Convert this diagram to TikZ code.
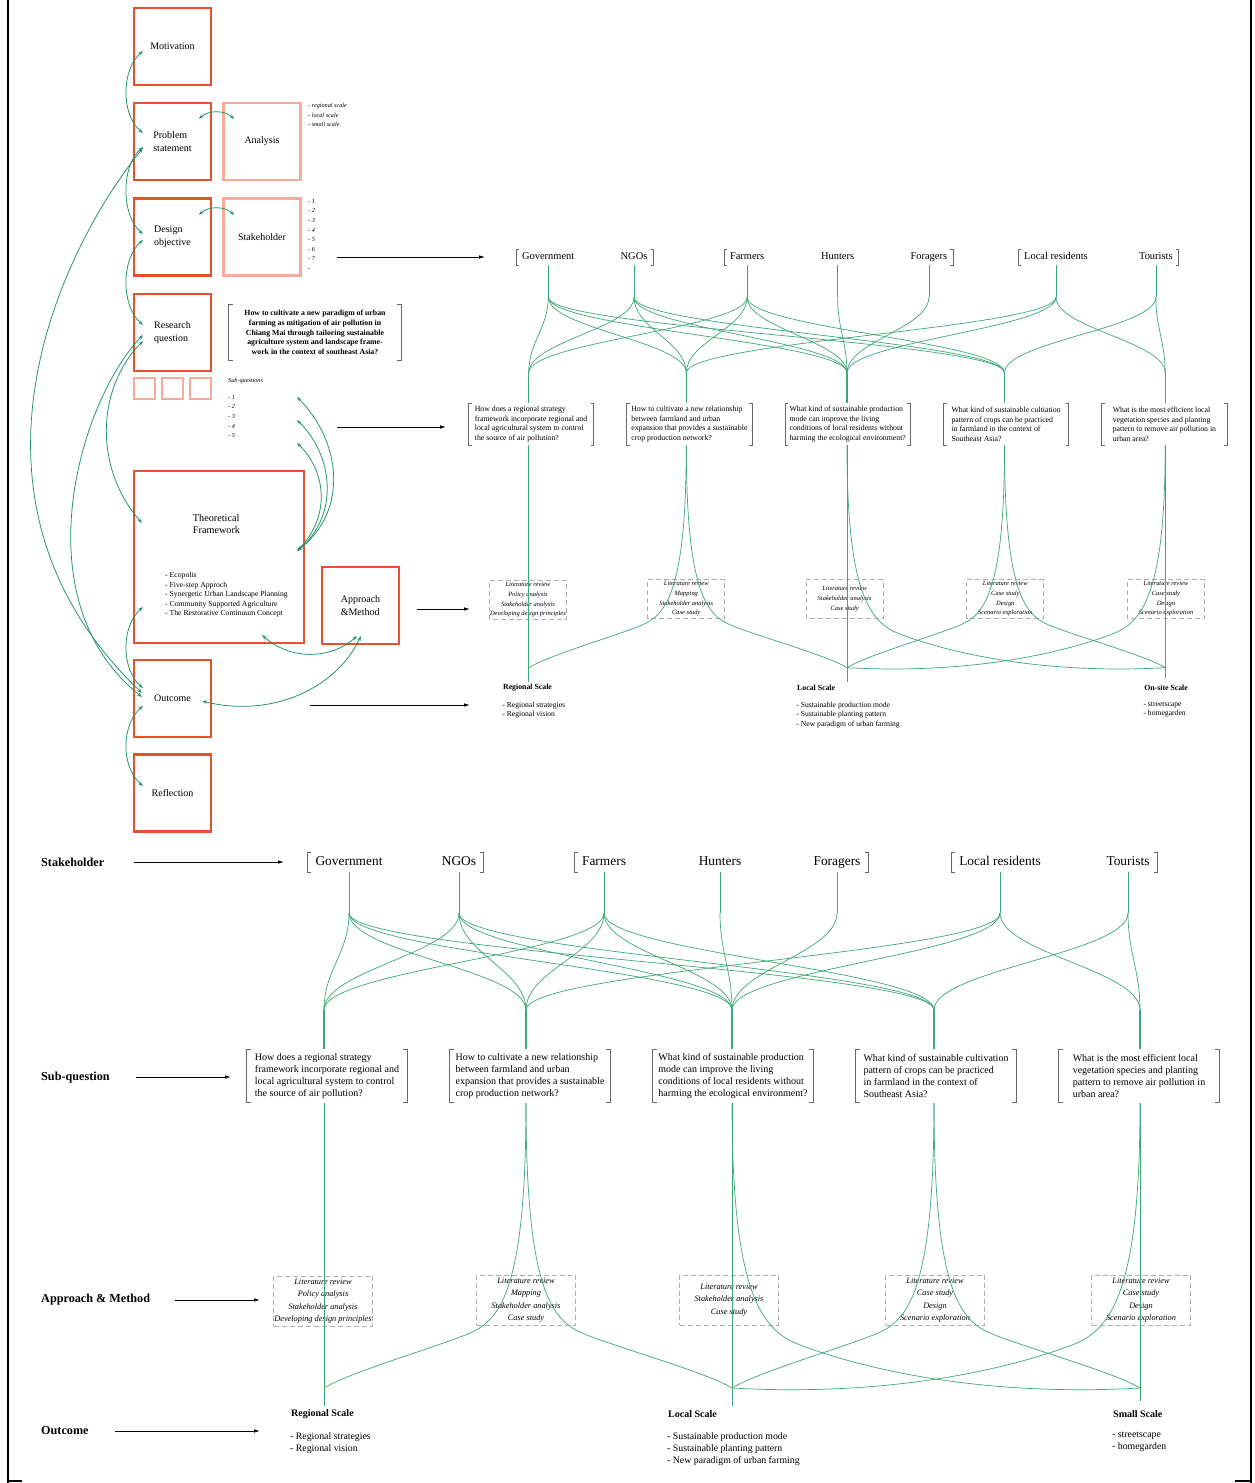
\documentclass[tikz,border=0pt]{standalone}
\usepackage{fontspec}
\setmainfont{Liberation Serif}
\usetikzlibrary{arrows.meta,calc}
\definecolor{orng}{RGB}{230,82,44}
\definecolor{lorng}{RGB}{246,172,152}
\definecolor{netgreen}{RGB}{60,168,120}
\definecolor{arrgreen}{RGB}{28,146,100}
\definecolor{dashgrey}{RGB}{175,175,175}
\definecolor{brgrey}{RGB}{105,105,105}
\newcommand\fsz[2]{\fontsize{#1}{#2}\selectfont}
\tikzset{
  obox/.style={draw=orng, line width=2.4pt, minimum width=77pt, minimum height=77pt, inner sep=0pt, font=\fsz{10}{12.6}, align=left},
  lbox/.style={obox, draw=lorng},
  sbox/.style={draw=lorng, line width=2pt, minimum width=21pt, minimum height=21pt, inner sep=0pt},
  gline/.style={draw=netgreen, line width=0.7pt},
  garr/.style={draw=arrgreen, line width=0.75pt, {Stealth[length=5pt,width=3.4pt]}-{Stealth[length=5pt,width=3.4pt]}},
  barr/.style={draw=black, line width=0.8pt, -{Latex[length=6pt,width=3.5pt]}},
  stk/.style={font=\fsz{13.4}{15}, inner sep=1pt, text height=9.2pt, text depth=2.8pt},
  qbox/.style={minimum width=160pt, minimum height=53pt, align=left, inner sep=0pt, font=\fsz{10}{12.2}},
  bracket/.style={draw=brgrey, line width=0.8pt},
  mbox/.style={draw=dashgrey, dash pattern=on 5pt off 3pt, line width=0.9pt, minimum width=99pt, minimum height=50pt, align=center, font=\fsz{8.3}{12.4}\itshape, inner sep=0pt},
  olab/.style={font=\fsz{10}{12}\bfseries, inner sep=0pt, anchor=west},
  oitems/.style={font=\fsz{9.8}{12.1}, inner sep=0pt, anchor=north west, align=left},
  note/.style={font=\fsz{6.2}{9.6}\itshape, inner sep=0pt, align=left},
  sidelab/.style={font=\fsz{12.2}{14}\bfseries, inner sep=0pt, anchor=west}
}
\newcommand\qbrackets[1]{%
  \draw[bracket] ([xshift=4pt]#1.north west) -- (#1.north west) -- (#1.south west) -- ([xshift=4pt]#1.south west);
  \draw[bracket] ([xshift=-4pt]#1.north east) -- (#1.north east) -- (#1.south east) -- ([xshift=-4pt]#1.south east);
}
\newcommand\lbr[1]{\draw[bracket] ([xshift=-3pt,yshift=10pt]#1.west) -- ++(-3.5,0) -- ++(0,20) -- ++(3.5,0);}
\newcommand\rbr[1]{\draw[bracket] ([xshift=3pt,yshift=10pt]#1.east) -- ++(3.5,0) -- ++(0,20) -- ++(-3.5,0);}
\newcommand\flowblock[3]{%
  % stakeholders
  \node[stk] (#1gov) at (349,862) {Government};
  \node[stk] (#1ngo) at (459,862) {NGOs};
  \node[stk] (#1farm) at (604,862) {Farmers};
  \node[stk] (#1hunt) at (720,862) {Hunters};
  \node[stk] (#1forag) at (837,862) {Foragers};
  \node[stk] (#1local) at (1000,862) {Local residents};
  \node[stk] (#1tour) at (1128,862) {Tourists};
  \lbr{#1gov}\rbr{#1ngo}\lbr{#1farm}\rbr{#1forag}\lbr{#1local}\rbr{#1tour}
  \foreach \n/\x in {gov/349,ngo/459,farm/604,hunt/720,forag/837,local/1000,tour/1128}{
    \coordinate (#1b\n) at (\x,913);
    \draw[gline] ([yshift=-3pt]#1\n.south) -- (#1b\n);
  }
  \foreach \i/\x in {1/324,2/526,3/732,4/934,5/1140}{
    \coordinate (#1j\i) at (\x,1010);
    \coordinate (#1t\i) at (\x,1103);
  }
  \foreach \s/\q in {gov/1,gov/2,gov/3,gov/4,ngo/1,ngo/2,ngo/3,ngo/4,farm/1,farm/2,farm/3,farm/4,hunt/3,forag/3,local/2,local/3,local/5,tour/4,tour/5}{
    \draw[gline] (#1b\s) .. controls +(0,40) and +(0,-40) .. (#1j\q);
  }
  % sub-questions
  \node[qbox] (#1q1) at (327,1076) {How does a regional strategy\\framework incorporate regional and\\local agricultural system to control\\the source of air pollution?};
  \node[qbox] (#1q2) at (530,1076) {How to cultivate a new relationship\\between farmland and urban\\expansion that provides a sustainable\\crop production network?};
  \node[qbox] (#1q3) at (733,1076) {What kind of sustainable production\\mode can improve the living\\conditions of local residents without\\harming the ecological environment?};
  \node[qbox] (#1q4) at (936,1076) {What kind of sustainable #2\\pattern of crops can be practiced\\in farmland in the context of\\Southeast Asia?};
  \node[qbox] (#1q5) at (1139,1076) {What is the most efficient local\\vegetation species and planting\\pattern to remove air pollution in\\urban area?};
  \foreach \i in {1,...,5}{
    \qbrackets{#1q\i}
    \draw[gline, line width=1.1pt] (#1j\i) -- (#1j\i |- #1q\i.north);
  }
  % methods
  \node[mbox] (#1m1) at (323,1301) {Literature review\\Policy analysis\\Stakeholder analysis\\Developing design principles};
  \node[mbox] (#1m2) at (526,1300) {Literature review\\Mapping\\Stakeholder analysis\\Case study};
  \node[mbox] (#1m3) at (729,1300) {Literature review\\Stakeholder analysis\\Case study};
  \node[mbox] (#1m4) at (935,1300) {Literature review\\Case study\\Design\\Scenario exploration};
  \node[mbox] (#1m5) at (1141,1300) {Literature review\\Case study\\Design\\Scenario exploration};
  % outcome points
  \coordinate (#1R) at (324,1388);
  \coordinate (#1L) at (732,1388);
  \coordinate (#1S) at (1140,1388);
  \coordinate (#1e1) at (324,1406);
  \coordinate (#1e3) at (732,1406);
  \coordinate (#1e5) at (1140,1401);
  \draw[gline] (#1t1) -- (#1e1);
  \draw[gline] (#1t3) -- (#1e3);
  \draw[gline] (#1t5) -- (#1e5);
  \draw[gline] (#1t2) .. controls (526,1290) and (500,1320) .. (470,1333) .. controls (440,1346) and (350,1372) .. (#1R);
  \draw[gline] (#1t2) .. controls (526,1290) and (552,1320) .. (582,1333) .. controls (612,1346) and (706,1372) .. (#1L);
  \draw[gline] (#1t3) .. controls (732,1290) and (760,1330) .. (800,1345) .. controls (880,1375) and (1000,1396) .. (#1S);
  \draw[gline] (#1t4) .. controls (934,1290) and (908,1320) .. (878,1333) .. controls (848,1346) and (758,1372) .. (#1L);
  \draw[gline] (#1t4) .. controls (934,1290) and (960,1320) .. (990,1333) .. controls (1020,1346) and (1114,1372) .. (#1S);
  \draw[gline] (#1t5) .. controls (1140,1290) and (1112,1330) .. (1072,1345) .. controls (992,1375) and (872,1396) .. (#1L);
  % outcome labels
  \node[olab] (#1rs) at (291,1414) {Regional Scale};
  \node[oitems] (#1rsi) at (290,1432) {- Regional strategies\\- Regional vision};
  \node[olab] (#1ls) at (668,1414) {Local Scale};
  \node[oitems] (#1lsi) at (667,1432) {- Sustainable production mode\\- Sustainable planting pattern\\- New paradigm of urban farming};
  \node[olab] (#1ss) at (1113,1414) {#3};
  \node[oitems] (#1ssi) at (1112,1432) {- streetscape\\- homegarden};
}
\begin{document}
\begin{tikzpicture}[x=1pt,y=-1pt]
\useasboundingbox (0,0) rectangle (1255,1483);
\fill[white] (0,0) rectangle (1255,1483);
% page frame
\draw[line width=2.2pt] (8,0) -- (8,1483);
\draw[line width=2.2pt] (1251,0) -- (1251,1483);
\draw[line width=1.2pt] (8,1481) -- (22,1481);
\draw[line width=1.2pt] (1235,1481) -- (1251,1481);

% ---------- left column ----------
\node[obox] (mot) at (172.5,46.5) {Motivation};
\node[obox] (prob) at (172.5,141.5) {Problem\\statement};
\node[obox] (des) at (172.5,237) {Design\\objective};
\node[obox] (res) at (172.5,332.5) {Research\\question};
\node[sbox] (sq1) at (144.5,388.5) {};
\node[sbox] (sq2) at (172.5,388.5) {};
\node[sbox] (sq3) at (200.5,388.5) {};
\node[lbox] (ana) at (262,141.5) {Analysis};
\node[lbox] (stb) at (262,237) {Stakeholder};
\node[obox, minimum width=170pt, minimum height=172pt] (tf) at (219,557) {};
\node[font=\fsz{10.2}{12.6}, align=left, inner sep=0pt] (tft) at (216.5,524) {Theoretical\\Framework};
\node[font=\fsz{7.7}{9.6}, align=left, inner sep=0pt, anchor=north west] (tfl) at (165,572) {- Ecopolis\\- Five-step Approch\\- Synergetic Urban Landscape Planning\\- Community Supported Agriculture\\- The Restorative Continuum Concept};
\node[obox] (app) at (360.5,605.5) {Approach\\\&Method};
\node[obox] (outc) at (172.5,698.5) {Outcome};
\node[obox] (refl) at (172.5,793) {Reflection};

\node[note, anchor=north west] (anan) at (308,103) {- regional scale\\- local scale\\- small scale};
\node[note, anchor=north west] (stn) at (308,199) {- 1\\- 2\\- 3\\- 4\\- 5\\- 6\\- 7\\-};
\node[minimum width=172pt, minimum height=55pt, inner sep=0pt, align=center, font=\fsz{7.8}{9.6}\bfseries] (rq) at (315,332.5) {How to cultivate a new paradigm of urban\\farming as mitigation of air pollution in\\Chiang Mai through tailoring sustainable\\agriculture system and landscape frame-\\work in the context of southeast Asia?};
\qbrackets{rq}
\node[note, anchor=west] (sqt) at (228,381) {Sub-questions};
\node[note, anchor=north west] (sql) at (228,395) {- 1\\- 2\\- 3\\- 4\\- 5};

% green arrows (left column)
\coordinate (g1a) at (143,51);   \coordinate (g1b) at (143,133);
\coordinate (g2a) at (143,147);  \coordinate (g2b) at (143,234);
\coordinate (g3a) at (143,240);  \coordinate (g3b) at (143,325);
\coordinate (g4a) at (199,119);  \coordinate (g4b) at (234,119);
\coordinate (g5a) at (199,215);  \coordinate (g5b) at (234,215);
\coordinate (g6a) at (143,148);  \coordinate (g6b) at (142,693);
\coordinate (g7a) at (143,335);  \coordinate (g7b) at (142,697);
\coordinate (g8a) at (143,341);  \coordinate (g8b) at (142,523);
\coordinate (g9a) at (143,607);  \coordinate (g9b) at (143,688);
\coordinate (g10a) at (143,706); \coordinate (g10b) at (143,786);
\coordinate (g11a) at (297,397); \coordinate (g12a) at (297,420); \coordinate (g13a) at (297,443);
\coordinate (g11b) at (297,551);
\coordinate (g14a) at (262,635); \coordinate (g14b) at (357,636);
\coordinate (g15a) at (202,701); \coordinate (g15b) at (361,636);
\draw[garr] (g1a) .. controls (121,70) and (121,115) .. (g1b);
\draw[garr] (g2a) .. controls (121,166) and (121,215) .. (g2b);
\draw[garr] (g3a) .. controls (121,259) and (121,306) .. (g3b);
\draw[garr] (g4a) .. controls (208,110) and (225,110) .. (g4b);
\draw[garr] (g5a) .. controls (208,206) and (225,206) .. (g5b);
\draw[garr] (g6a) .. controls (60,250) and (-60,500) .. (g6b);
\draw[garr] (g7a) .. controls (80,400) and (20,600) .. (g7b);
\draw[garr] (g8a) .. controls (95,390) and (95,470) .. (g8b);
\draw[garr] (g9a) .. controls (121,626) and (121,669) .. (g9b);
\draw[garr] (g10a) .. controls (121,725) and (121,767) .. (g10b);
\draw[garr] (g11a) .. controls (340,440) and (350,510) .. (g11b);
\draw[garr] (g12a) .. controls (333,455) and (340,515) .. (g11b);
\draw[garr] (g13a) .. controls (325,470) and (332,515) .. (g11b);
\draw[garr] (g14a) .. controls (290,660) and (330,660) .. (g14b);
\draw[garr] (g15a) .. controls (270,718) and (335,690) .. (g15b);

% black arrows (top half)
\coordinate (k1a) at (337,257); \coordinate (k1b) at (485,257);
\coordinate (k2a) at (337,427); \coordinate (k2b) at (446,427);
\coordinate (k3a) at (417,609); \coordinate (k3b) at (470,609);
\coordinate (k4a) at (310,705); \coordinate (k4b) at (470,705);
\draw[barr] (k1a) -- (k1b);
\draw[barr] (k2a) -- (k2b);
\draw[barr] (k3a) -- (k3b);
\draw[barr] (k4a) -- (k4b);

% ---------- small network (top) ----------
\begin{scope}[shift={(276,-415)}, scale=0.78, transform shape]
  \flowblock{T}{cultiation}{On-site Scale}
\end{scope}

% ---------- large network (bottom) ----------
\flowblock{B}{cultivation}{Small Scale}

\node[sidelab] (lstk) at (41,862) {Stakeholder};
\node[sidelab] (lsq) at (41,1078) {Sub-question};
\node[sidelab] (lam) at (41,1300) {Approach \& Method};
\node[sidelab] (lout) at (41,1431) {Outcome};
\coordinate (s1a) at (134,862);  \coordinate (s1b) at (284,862);
\coordinate (s2a) at (136,1077); \coordinate (s2b) at (231,1077);
\coordinate (s3a) at (175,1300); \coordinate (s3b) at (260,1300);
\coordinate (s4a) at (115,1431); \coordinate (s4b) at (260,1431);
\draw[barr] (s1a) -- (s1b);
\draw[barr] (s2a) -- (s2b);
\draw[barr] (s3a) -- (s3b);
\draw[barr] (s4a) -- (s4b);
\end{tikzpicture}
\end{document}
